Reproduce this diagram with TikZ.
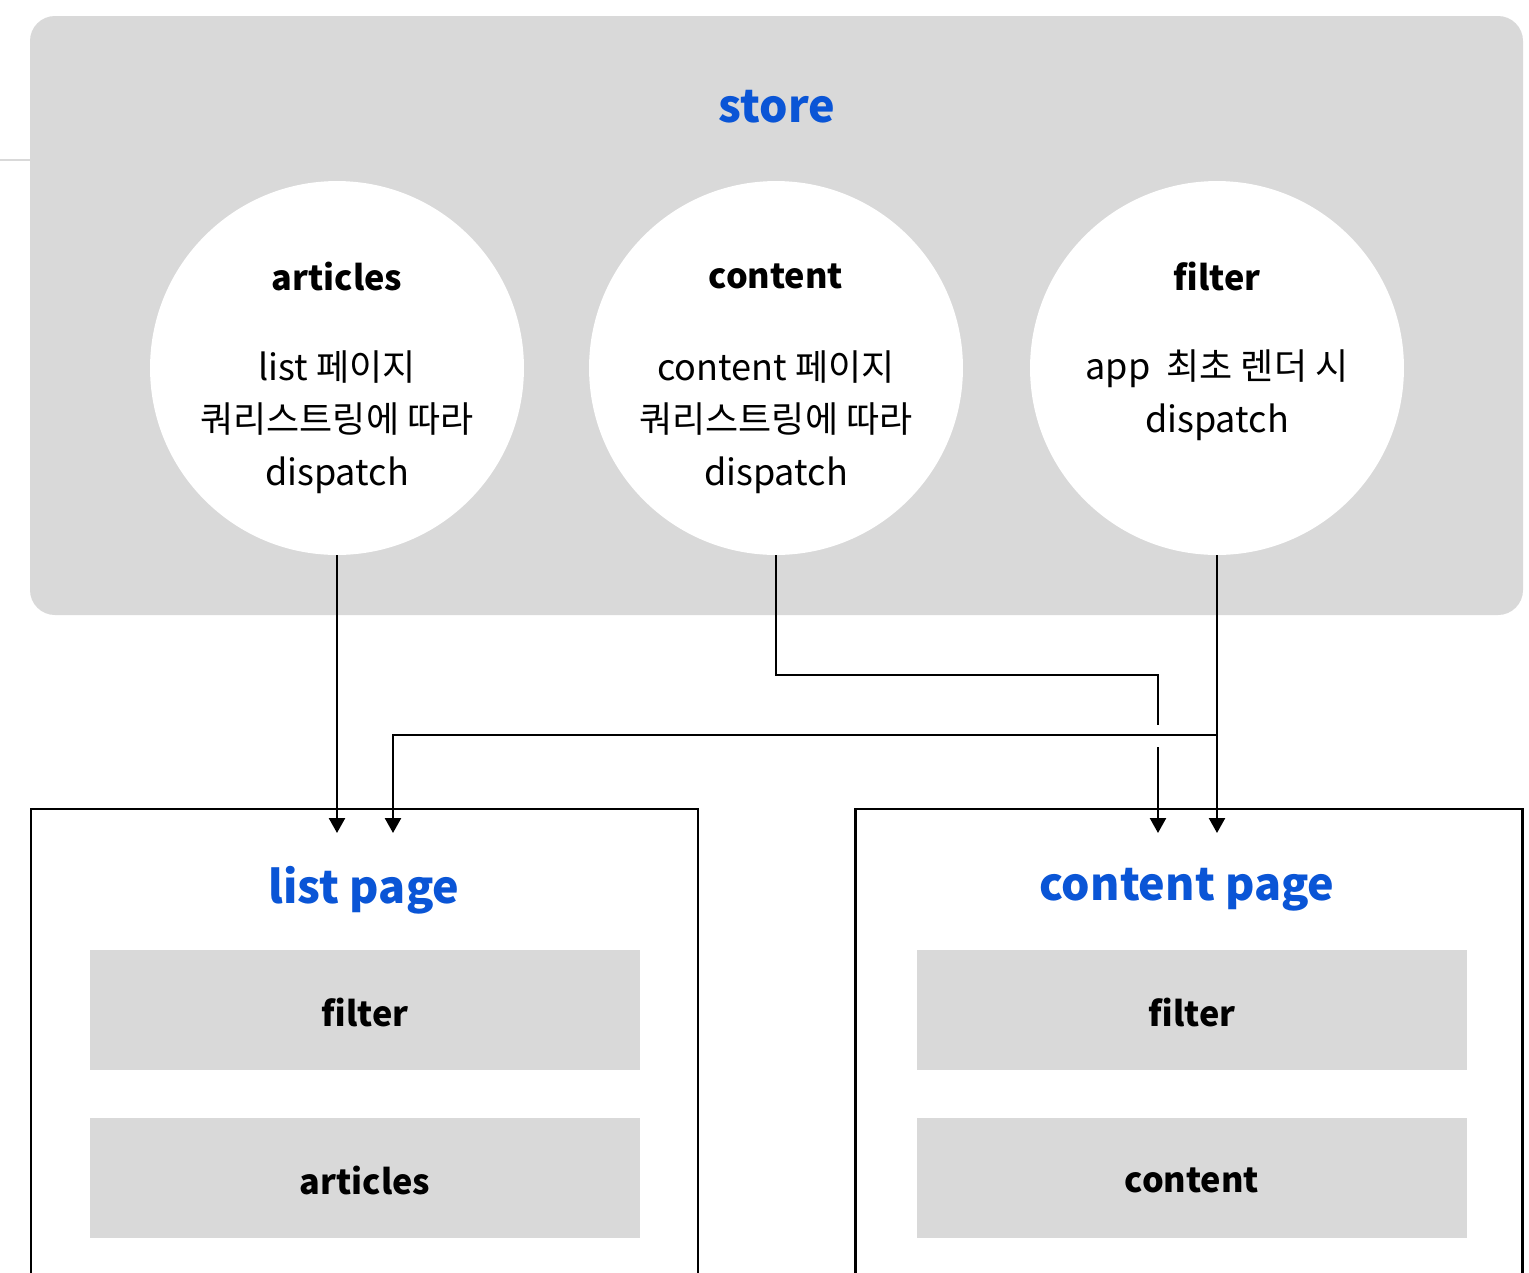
\documentclass[tikz,border=0pt]{standalone}
\usepackage{fontspec}
\setmainfont{Noto Sans CJK KR}
\usetikzlibrary{arrows.meta}

\definecolor{storegray}{RGB}{217,217,217}
\definecolor{titleblue}{RGB}{10,85,214}

\tikzset{
  statecircle/.style={circle, fill=white, minimum size=7.48cm, inner sep=0pt},
  circletitle/.style={font=\fontsize{19.5}{24}\selectfont\bfseries},
  circlebody/.style={font=\fontsize{20.5}{30}\selectfont, align=center},
  bigtitle/.style={font=\fontsize{25.5}{30}\selectfont\bfseries, text=titleblue},
  pagebox/.style={draw=black, line width=1.4pt, fill=white, minimum width=13.34cm, minimum height=10cm, inner sep=0pt},
  itembox/.style={fill=storegray, minimum width=11cm, minimum height=2.4cm, font=\fontsize{19.5}{24}\selectfont\bfseries},
  wire/.style={line width=1.4pt},
  arr/.style={wire, -{Triangle[length=0.3cm,width=0.32cm]}}
}

\begin{document}
\begin{tikzpicture}[x=0.02cm, y=-0.02cm]
\useasboundingbox (0,0) rectangle (1529,1272);
\clip (0,0) rectangle (1529,1272);
\fill[white] (0,0) rectangle (1529,1272);

% store
\draw[storegray, line width=0.6pt] (0,160) -- (30,160);
\fill[storegray, rounded corners=0.5cm] (30,16) rectangle (1523,615);
\node[bigtitle] (store) at (777,107) {store};

% store 의 state
\node[statecircle] (articles) at (337,368) {};
\node[statecircle] (content) at (776,368) {};
\node[statecircle] (filter) at (1217,368) {};

\node[circletitle] (articlesT) at (337,276) {articles};
\node[circletitle] (contentT) at (776,276) {content};
\node[circletitle] (filterT) at (1217,276) {filter};

\node[circlebody] (articlesB) at (337,422) {list 페이지\\쿼리스트링에 따라\\dispatch};
\node[circlebody] (contentB) at (776,422) {content 페이지\\쿼리스트링에 따라\\dispatch};
\node[circlebody] (filterB) at (1217,395) {app\ \ 최초 렌더 시\\dispatch};

% page
\node[pagebox] (listpage) at (364.5,1059) {};
\node[pagebox] (contentpage) at (1189,1059) {};

\node[bigtitle] (listT) at (364,890) {list page};
\node[bigtitle] (contentpT) at (1187,890) {content page};

\node[itembox, text depth=0pt] (listfilter) at (365,1010) {\raisebox{-3pt}{filter}};
\node[itembox, text depth=0pt] (listarticles) at (365,1178) {\raisebox{-3pt}{articles}};
\node[itembox, text depth=0pt] (cpfilter) at (1192,1010) {\raisebox{-3pt}{filter}};
\node[itembox, text depth=0pt] (cpcontent) at (1192,1178) {\raisebox{-3pt}{content}};

% 연결선
\coordinate (tipy) at (0,833);
\coordinate (crossy) at (0,735);
\coordinate (bendy) at (0,675);
\coordinate (lp2) at (393,833);
\coordinate (cp1) at (1158,833);

\draw[arr] (articles.south) -- (articles.south |- tipy);
\draw[arr] (filter.south) -- (filter.south |- tipy);
\draw[arr] (filter.south |- crossy) -- (lp2 |- crossy) -- (lp2);
\draw[wire] (content.south) -- (content.south |- bendy) -- (cp1 |- bendy) -- ([yshift=0.2cm]cp1 |- crossy);
\draw[arr] ([yshift=-0.24cm]cp1 |- crossy) -- (cp1);
\end{tikzpicture}
\end{document}
